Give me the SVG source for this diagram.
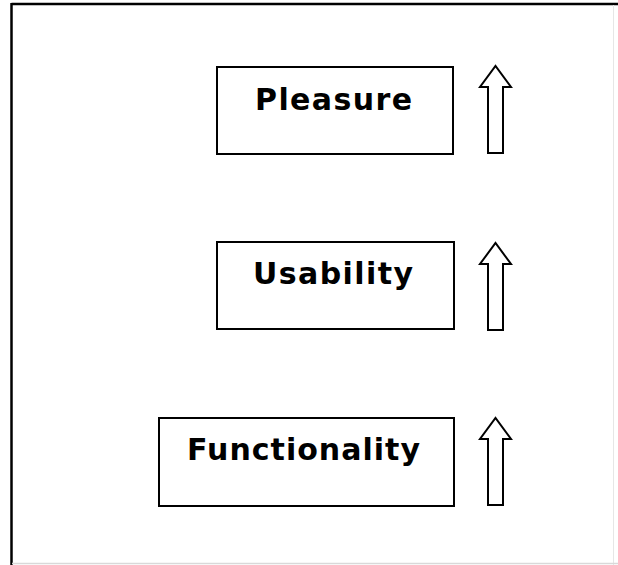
<svg xmlns="http://www.w3.org/2000/svg" width="618" height="565" viewBox="0 0 618 565">
  <style>
    .box { fill: #ffffff; stroke: #000000; stroke-width: 2; }
    .arrow { fill: #ffffff; stroke: #000000; stroke-width: 2; stroke-linejoin: miter; }
    .label { font-family: "DejaVu Sans", "Liberation Sans", sans-serif; font-weight: bold; font-size: 30px; fill: #000000; }
  </style>
  <defs>
    <!-- hollow upward block arrow, tip at (0,0) -->
    <polygon id="up-arrow" class="arrow" points="-7.5,87 -7.5,21 -15.5,21 0,0 15.5,21 7.5,21 7.5,87"/>
  </defs>

  <!-- page frame -->
  <rect x="0" y="0" width="618" height="565" fill="#ffffff"/>
  <g id="frame" fill="none">
    <line x1="11.5" y1="4" x2="618" y2="4" stroke="#000000" stroke-width="2.5"/>
    <line x1="11.5" y1="3" x2="11.5" y2="565" stroke="#000000" stroke-width="2.5"/>
    <line x1="613.5" y1="5" x2="613.5" y2="565" stroke="#e6e6e6" stroke-width="1"/>
    <line x1="12" y1="563.5" x2="618" y2="563.5" stroke="#d9d9d9" stroke-width="1.5"/>
  </g>

  <g id="pleasure">
    <rect class="box" x="217" y="67" width="236" height="87"/>
    <text class="label" x="255" y="110" textLength="157" lengthAdjust="spacing">Pleasure</text>
  </g>

  <g id="usability">
    <rect class="box" x="217" y="242" width="237" height="87"/>
    <text class="label" x="253" y="284" textLength="160" lengthAdjust="spacing">Usability</text>
  </g>

  <g id="functionality">
    <rect class="box" x="159" y="418" width="295" height="88"/>
    <text class="label" x="187" y="460" textLength="233" lengthAdjust="spacing">Functionality</text>
  </g>

  <g id="connectors">
    <use href="#up-arrow" x="495.5" y="66"/>
    <use href="#up-arrow" x="495.5" y="243"/>
    <use href="#up-arrow" x="495.5" y="418"/>
  </g>
</svg>
